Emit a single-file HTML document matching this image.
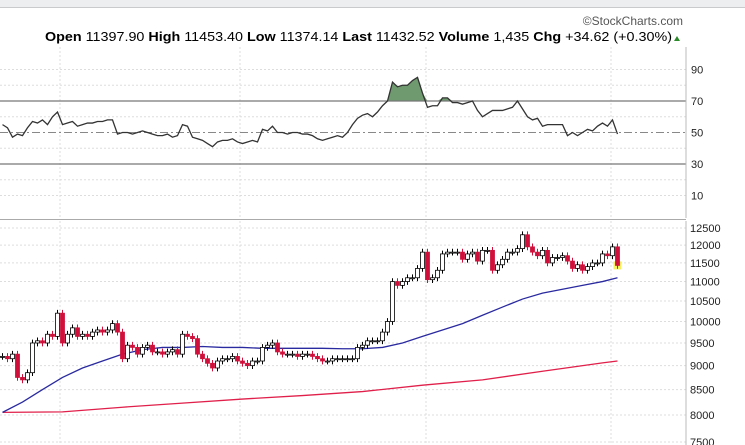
<!DOCTYPE html>
<html><head><meta charset="utf-8"><style>
body{margin:0;background:#fff}
svg{display:block;font-family:"Liberation Sans",sans-serif}
</style></head><body>
<svg id="c" width="745" height="445">
<rect x="0" y="0" width="745" height="7" fill="#eceef0"/>
<line x1="0" y1="7.5" x2="745" y2="7.5" stroke="#c8cacc"/>
<text x="683" y="25" font-size="12" fill="#555" text-anchor="end">©StockCharts.com</text>
<text x="45" y="41" font-size="12.5" textLength="627" lengthAdjust="spacingAndGlyphs"><tspan font-weight="bold">Open</tspan> 11397.90 <tspan font-weight="bold">High</tspan> 11453.40 <tspan font-weight="bold">Low</tspan> 11374.14 <tspan font-weight="bold">Last</tspan> 11432.52 <tspan font-weight="bold">Volume</tspan> 1,435 <tspan font-weight="bold">Chg</tspan> +34.62 (+0.30%)</text>
<polygon points="674,41 680,41 677,36" fill="#2a8a2a"/>
<g id="rsi"></g>
<g id="price"></g>
</svg>
<script>
const closes=[9200,9150,9250,8750,8700,8850,9500,9550,9500,9700,9650,10200,9500,9700,9850,9650,9700,9650,9750,9800,9750,9800,9950,9750,9150,9450,9400,9250,9400,9450,9300,9300,9250,9300,9350,9250,9700,9650,9600,9250,9150,9050,8950,9100,9150,9150,9200,9100,9050,9000,9100,9100,9400,9450,9500,9300,9250,9250,9250,9200,9250,9250,9200,9150,9100,9100,9150,9150,9150,9150,9150,9400,9450,9550,9550,9550,9750,10000,11000,10900,11000,11100,11100,11350,11800,11050,11100,11300,11750,11800,11800,11800,11600,11750,11800,11550,11850,11850,11300,11450,11600,11800,11800,11900,12300,11950,11800,11700,11850,11500,11650,11650,11700,11550,11350,11450,11300,11400,11500,11500,11750,11700,11950,11432];
const rsi=[55,53,47,49,48,53,57,56,58,55,60,63,55,56,57,54,55,56,56,57,57,58,58,49,50,50,49,50,51,50,49,48,48,49,47,48,55,54,47,46,45,43,41,44,45,45,46,44,43,44,45,44,52,51,54,50,50,49,50,50,49,49,48,46,45,46,47,48,47,50,55,59,61,62,60,63,67,70,82,79,80,80,83,85,75,66,67,67,72,72,69,69,68,69,70,64,60,62,64,64,64,65,66,70,65,60,58,59,54,55,55,55,55,48,50,48,50,52,51,54,56,54,58,49];
const ma50Idx=[0,4,8,12,16,20,24,28,32,36,40,44,48,52,56,60,64,68,72,76,80,84,88,92,96,100,104,108,112,116,120,123];
const ma50=[8050,8250,8500,8750,8950,9100,9250,9350,9400,9400,9420,9400,9400,9380,9380,9380,9380,9370,9370,9400,9500,9650,9800,9950,10150,10350,10550,10700,10800,10900,11000,11100];
const ma200Idx=[0,12,24,36,48,60,72,84,96,108,120,123];
const ma200=[8050,8060,8150,8230,8310,8380,8460,8590,8700,8880,9060,9100];
const priceTicks=[12500,12000,11500,11000,10500,10000,9500,9000,8500,8000,7500];
const rsiTicks=[90,70,50,30,10];
const rsiGrid=[90,80,60,40,20,10];

const NS="http://www.w3.org/2000/svg";
function mk(p,t,a){const e=document.createElementNS(NS,t);for(const k in a)e.setAttribute(k,a[k]);p.appendChild(e);return e;}
const X=i=>2.5+i*5;
const PY=p=>228-419*Math.log(p/12500);
const RY=v=>132.5-(v-50)*1.575;
const AX=686;
const R=document.getElementById('rsi'),P=document.getElementById('price');

// vertical grid
[60,240,426,611].forEach(x=>{
 let g=mk(R,'line',{x1:x,y1:47,x2:x,y2:218,stroke:'#ddd','stroke-dasharray':'2,2'});
 
 g=mk(P,'line',{x1:x,y1:221,x2:x,y2:445,stroke:'#ddd','stroke-dasharray':'2,2'});
 
});
rsiGrid.forEach(v=>{const g=mk(R,'line',{x1:0,y1:RY(v),x2:AX,y2:RY(v),stroke:'#ddd','stroke-dasharray':'2,2'});
 });
// RSI overbought fill
let up=[];for(let i=0;i<rsi.length;i++){up.push([X(i),RY(Math.max(rsi[i],70))]);}
let f=mk(R,'path',{d:'M'+X(0)+','+RY(70)+up.map(p=>'L'+p[0]+','+p[1]).join('')+'L'+X(rsi.length-1)+','+RY(70)+'Z',fill:'#6f9a6f'});

[[70,'none'],[30,'none']].forEach(([v])=>{const l=mk(R,'line',{x1:0,y1:RY(v),x2:AX,y2:RY(v),stroke:'#777','stroke-width':1.3});
 });
let l50=mk(R,'line',{x1:0,y1:RY(50),x2:AX,y2:RY(50),stroke:'#888','stroke-dasharray':'8,3,2,3'});

let rl=mk(R,'polyline',{points:rsi.map((v,i)=>X(i)+','+RY(v)).join(' '),fill:'none',stroke:'#333','stroke-width':1.3});

rsiTicks.forEach(v=>{const t=mk(R,'text',{x:AX+5,y:RY(v)+4,'font-size':11,fill:'#222'});t.textContent=v;
 });
let ra=mk(R,'line',{x1:AX,y1:47,x2:AX,y2:218,stroke:'#bbb'});
let sep=mk(R,'line',{x1:0,y1:219.5,x2:AX,y2:219.5,stroke:'#aaa'});

// price grid
priceTicks.forEach(v=>{const g=mk(P,'line',{x1:0,y1:PY(v),x2:AX,y2:PY(v),stroke:'#ddd','stroke-dasharray':'2,2'});
 
 const t=mk(P,'text',{x:AX+4,y:PY(v)+4,'font-size':11,fill:'#222'});t.textContent=v;
 });
let pa=mk(P,'line',{x1:AX,y1:221,x2:AX,y2:445,stroke:'#bbb'});
// MAs
let m2=mk(P,'polyline',{points:ma200.map((v,k)=>X(ma200Idx[k])+','+PY(v)).join(' '),fill:'none',stroke:'#e0204a','stroke-width':1.3});

let m5=mk(P,'polyline',{points:ma50.map((v,k)=>X(ma50Idx[k])+','+PY(v)).join(' '),fill:'none',stroke:'#2a2aa0','stroke-width':1.3});

// candles
let hl=mk(P,'rect',{x:X(123)-4,y:PY(closes[123])-4,width:8,height:8,fill:'#f5f060'});

for(let i=0;i<closes.length;i++){
 const c=closes[i],o=i?closes[i-1]:c,upc=c>=o;
 const col=upc?'#000':'#d0103a';
 const hi=Math.max(o,c)*1.008,lo=Math.min(o,c)*0.992;
 const w=mk(P,'line',{x1:X(i),y1:PY(hi),x2:X(i),y2:PY(lo),stroke:col});
 
 const y1=PY(Math.max(o,c)),y2=PY(Math.min(o,c));
 const b=mk(P,'rect',{x:X(i)-2,y:y1,width:4,height:Math.max(1,y2-y1),fill:upc?'#fff':'#d0103a',stroke:upc?'#000':'#d0103a','stroke-width':0.8});
 
}
</script>
</body></html>
